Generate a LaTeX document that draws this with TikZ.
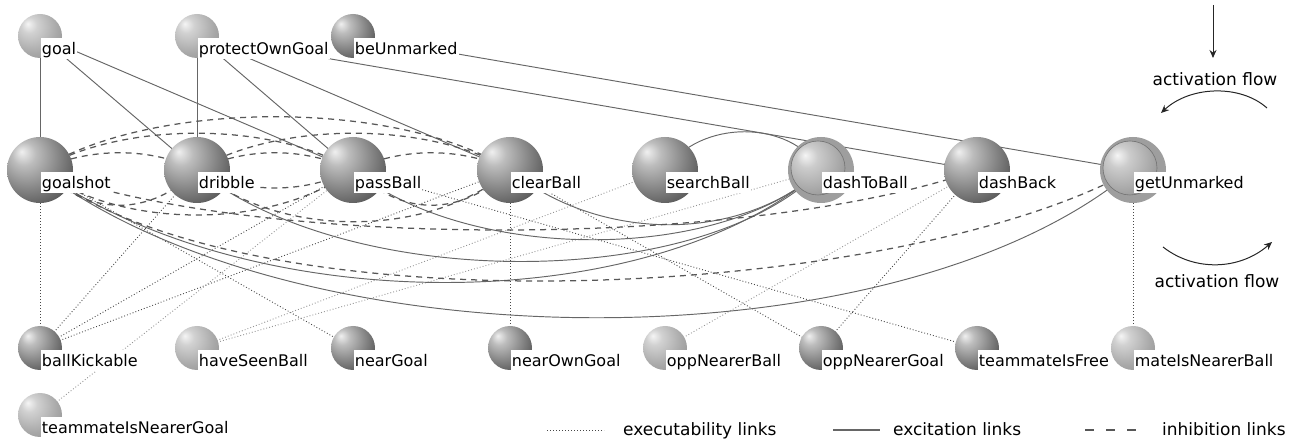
\documentclass[tikz,border=0pt]{standalone}
\usepackage{fontspec}
\setmainfont{DejaVu Sans}
\usetikzlibrary{arrows.meta}
\pgfdeclareradialshading{lsph}{\pgfpoint{-14bp}{14bp}}{%
  color(0bp)=(white!96!black); color(9bp)=(white!82!black);
  color(28bp)=(white!66!black); color(50bp)=(white!52!black);
  color(75bp)=(white!46!black)}
\pgfdeclareradialshading{dsph}{\pgfpoint{-14bp}{14bp}}{%
  color(0bp)=(white!94!black); color(9bp)=(white!74!black);
  color(24bp)=(white!52!black); color(38bp)=(white!32!black);
  color(75bp)=(white!26!black)}
\pgfdeclareradialshading{rsph}{\pgfpoint{-12bp}{12bp}}{%
  color(0bp)=(white!96!black); color(10bp)=(white!80!black);
  color(32bp)=(white!62!black); color(50bp)=(white!52!black);
  color(75bp)=(white!48!black)}
\newcommand\sphS[2]{\shade[shading=#2] (#1) circle[radius=22pt];}
\newcommand\sphB[2]{\shade[shading=#2] (#1) circle[radius=33pt];}
\newcommand\sphR[1]{\fill[white!62!black] (#1) circle[radius=33pt];
  \shade[shading=rsph] ([shift={(-3,-2)}]#1) circle[radius=27pt];
  \draw[white!45!black,line width=0.6pt] ([shift={(-3,-2)}]#1) circle[radius=27pt];}
\begin{document}
\begin{tikzpicture}[x=1pt,y=-1pt,
  exc/.style={draw=black!60,line width=0.95pt},
  inh/.style={draw=black!66,line width=1.25pt,dash pattern=on 6pt off 5pt},
  exe/.style={draw=black!72,line width=0.9pt,dash pattern=on 0.9pt off 2.1pt},
  exel/.style={exe,draw=black!42},
  lbl/.style={fill=white,anchor=north west,inner xsep=1.2pt,inner ysep=1pt,
    text height=15pt,text depth=4pt,font=\fontsize{16}{16}\selectfont,
    xshift=0.5pt,yshift=-2pt},
  ann/.style={font=\fontsize{17}{17}\selectfont,inner sep=0pt},
  tip/.style={-{Stealth[length=8pt,width=7pt]},line width=1pt,draw=black!85}]
\useasboundingbox (0,0) rectangle (1294,443);
% positions
\coordinate (goal) at (40,36);
\coordinate (pog)  at (197,36);
\coordinate (beu)  at (353,36);
\coordinate (gs)  at (40,170);
\coordinate (dr)  at (197,170);
\coordinate (pb)  at (353,170);
\coordinate (cb)  at (510,170);
\coordinate (sb)  at (665,170);
\coordinate (dtb) at (821,170);
\coordinate (db)  at (977,170);
\coordinate (gu)  at (1133,170);
\coordinate (bk)   at (40,348);
\coordinate (hsb)  at (197,348);
\coordinate (ng)   at (353,348);
\coordinate (nog)  at (510,348);
\coordinate (onb)  at (665,348);
\coordinate (ong)  at (821,348);
\coordinate (tif)  at (977,348);
\coordinate (minb) at (1133,348);
\coordinate (tng)  at (40,415);
% executability links
\draw[exe] (bk) -- (gs);
\draw[exe] (bk) -- (dr);
\draw[exe] (bk) -- (pb);
\draw[exe] (bk) -- (cb);
\draw[exe] (gs) -- (ng);
\draw[exel] (hsb) -- (sb);
\draw[exel] (hsb) -- (dtb);
\draw[exel] (tng) -- (pb);
\draw[exe] (nog) -- (cb);
\draw[exel] (onb) -- (db);
\draw[exe] (ong) -- (db);
\draw[exe] (pb) -- (tif);
\draw[exe] (cb) -- (ong);
\draw[exe] (minb) -- (gu);
% excitation links
\draw[exc] (goal) -- (gs);
\draw[exc] (goal) -- (dr);
\draw[exc] (goal) -- (pb);
\draw[exc] (pog) -- (dr);
\draw[exc] (pog) -- (pb);
\draw[exc] (pog) -- (cb);
\draw[exc] (pog) -- (db);
\draw[exc] (beu) -- (gu);
\draw[exc] (sb) .. controls (700,119) and (790,119) .. (dtb);
\draw[exc] (gs) .. controls (250,320) and (650,320) .. (dtb);
\draw[exc] (dr) .. controls (350,292) and (700,292) .. (dtb);
\draw[exc] (pb) .. controls (470,263) and (720,263) .. (dtb);
\draw[exc] (cb) .. controls (600,243) and (740,243) .. (dtb);
\draw[exc] (gs) .. controls (300,367) and (900,367) .. (gu);
% inhibition links
\draw[inh] (gs) .. controls (90,147) and (150,147) .. (dr);
\draw[inh] (dr) .. controls (247,147) and (303,147) .. (pb);
\draw[inh] (pb) .. controls (403,147) and (460,147) .. (cb);
\draw[inh] (gs) .. controls (120,121) and (273,121) .. (pb);
\draw[inh] (dr) .. controls (277,121) and (430,121) .. (cb);
\draw[inh] (gs) .. controls (150,99) and (400,99) .. (cb);
\draw[inh] (gs) .. controls (90,217) and (150,217) .. (dr);
\draw[inh] (dr) .. controls (247,194) and (303,194) .. (pb);
\draw[inh] (pb) .. controls (403,217) and (460,217) .. (cb);
\draw[inh] (gs) .. controls (120,230) and (273,230) .. (pb);
\draw[inh] (dr) .. controls (277,239) and (430,239) .. (cb);
\draw[inh] (gs) .. controls (250,250) and (750,250) .. (db);
\draw[inh] (gs) .. controls (250,335) and (900,300) .. (gu);
% spheres
\sphS{goal}{lsph}
\sphS{pog}{lsph}
\sphS{beu}{dsph}
\sphB{gs}{dsph}
\sphB{dr}{dsph}
\sphB{pb}{dsph}
\sphB{cb}{dsph}
\sphB{sb}{dsph}
\sphR{dtb}
\sphB{db}{dsph}
\sphR{gu}
\sphS{bk}{dsph}
\sphS{hsb}{lsph}
\sphS{ng}{dsph}
\sphS{nog}{dsph}
\sphS{onb}{lsph}
\sphS{ong}{dsph}
\sphS{tif}{dsph}
\sphS{minb}{lsph}
\sphS{tng}{lsph}
% labels
\node[lbl] (goalL) at (goal) {goal};
\node[lbl] (pogL) at (pog) {protectOwnGoal};
\node[lbl] (beuL) at (beu) {beUnmarked};
\node[lbl] (gsL) at (gs) {goalshot};
\node[lbl] (drL) at (dr) {dribble};
\node[lbl] (pbL) at (pb) {passBall};
\node[lbl] (cbL) at (cb) {clearBall};
\node[lbl] (sbL) at (sb) {searchBall};
\node[lbl] (dtbL) at (dtb) {dashToBall};
\node[lbl] (dbL) at (db) {dashBack};
\node[lbl] (guL) at (gu) {getUnmarked};
\node[lbl] (bkL) at (bk) {ballKickable};
\node[lbl] (hsbL) at (hsb) {haveSeenBall};
\node[lbl] (ngL) at (ng) {nearGoal};
\node[lbl] (nogL) at (nog) {nearOwnGoal};
\node[lbl] (onbL) at (onb) {oppNearerBall};
\node[lbl] (ongL) at (ong) {oppNearerGoal};
\node[lbl] (tifL) at (tif) {teammateIsFree};
\node[lbl] (minbL) at (minb) {mateIsNearerBall};
\node[lbl] (tngL) at (tng) {teammateIsNearerGoal};
% activation flow annotations
\coordinate (af1a) at (1213,5);
\coordinate (af1b) at (1213,58);
\draw[tip] (af1a) -- (af1b);
\node[ann,anchor=base] (af1t) at (1215,86) {activation flow};
\coordinate (af2a) at (1267,108);
\coordinate (af2b) at (1161,113);
\draw[tip] (af2a) .. controls (1240,84) and (1190,86) .. (af2b);
\coordinate (af3a) at (1163,247);
\coordinate (af3b) at (1272,242);
\draw[tip] (af3a) .. controls (1195,272) and (1240,270) .. (af3b);
\node[ann,anchor=base] (af3t) at (1217,288) {activation flow};
% legend
\coordinate (lg1a) at (547,430);
\coordinate (lg1b) at (604,430);
\draw[exe] (lg1a) -- (lg1b);
\node[ann,anchor=base west] (lg1t) at (623,436) {executability links};
\coordinate (lg2a) at (833,430);
\coordinate (lg2b) at (880,430);
\draw[exc,line width=1.1pt] (lg2a) -- (lg2b);
\node[ann,anchor=base west] (lg2t) at (893,436) {excitation links};
\coordinate (lg3a) at (1085,430);
\coordinate (lg3b) at (1142,430);
\draw[inh,dash pattern=on 9pt off 12pt] (lg3a) -- (lg3b);
\node[ann,anchor=base west] (lg3t) at (1162,436) {inhibition links};
\end{tikzpicture}
\end{document}
